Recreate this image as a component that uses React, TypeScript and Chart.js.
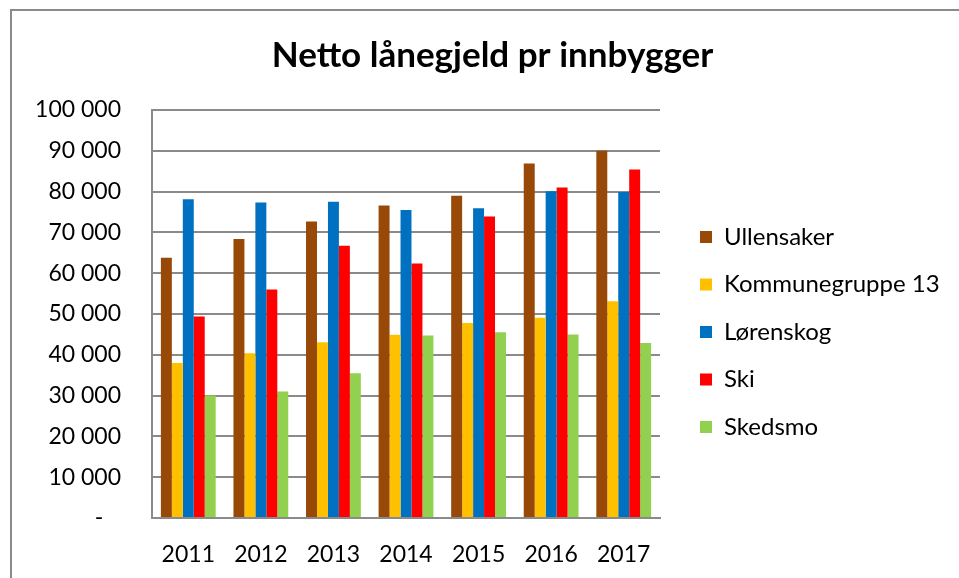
import React, { useEffect, useRef } from "react";
import { Chart, registerables } from "chart.js";

Chart.register(...registerables);

const years = ["2011", "2012", "2013", "2014", "2015", "2016", "2017"];
const ullensaker = [63800, 68400, 72700, 76600, 79000, 86900, 90000];
const kommunegruppe13 = [38000, 40400, 43100, 44900, 47800, 49100, 53100];
const lorenskog = [78100, 77300, 77500, 75500, 75900, 80100, 79900];
const ski = [49400, 56000, 66700, 62400, 73900, 81000, 85400];
const skedsmo = [30000, 31000, 35500, 44700, 45500, 45000, 42900];

const seriesNames = ["Ullensaker", "Kommunegruppe 13", "Lørenskog", "Ski", "Skedsmo"];
const seriesColors = ["#984807", "#FFC000", "#0070C0", "#FF0000", "#92D050"];

const W = 959;
const H = 578;
const FONT = "Lato, 'Open Sans', sans-serif";
const GRID = "#8a8a8a";

const LEGEND_W = 299;
const LEGEND_PAD = 23.5;
const LEGEND_FS = 24;
const LEGEND_DX = 700 - 660 - LEGEND_PAD;
const LEGEND_DY = 237 - 110 - LEGEND_PAD - LEGEND_FS / 2;

const legendPlace = {
  id: "legendPlace",
  afterInit(chart: any) {
    const lg: any = chart.legend;
    if (!lg || lg.__wrapped) return;
    lg.__wrapped = true;
    const fit = lg.fit.bind(lg);
    lg.fit = function () {
      fit();
      this.width = LEGEND_W;
    };
    const draw = lg.draw.bind(lg);
    lg.draw = function () {
      const l = this.left, t = this.top, r = this.right, b = this.bottom;
      this.left = l + LEGEND_DX;
      this.right = r + LEGEND_DX;
      this.top = t + LEGEND_DY;
      this.bottom = b + LEGEND_DY + 200;
      draw();
      this.left = l;
      this.right = r;
      this.top = t;
      this.bottom = b;
    };
  },
};

function fmt(v: number): string {
  if (v === 0) return "-   ";
  const s = String(Math.round(v));
  return s.replace(/\B(?=(\d{3})+(?!\d))/g, " ");
}

export default function App() {
  const ref = useRef<HTMLCanvasElement>(null);

  useEffect(() => {
    if (!ref.current) return;
    Chart.defaults.color = "#000";
    const data = [ullensaker, kommunegruppe13, lorenskog, ski, skedsmo];
    const chart = new Chart(ref.current, {
      type: "bar",
      data: {
        labels: years,
        datasets: data.map((d, i) => ({
          label: seriesNames[i],
          data: d,
          backgroundColor: seriesColors[i],
          borderWidth: 0,
          barPercentage: 1,
          categoryPercentage: 0.755,
        })),
      },
      plugins: [legendPlace],
      options: {
        responsive: false,
        animation: false,
        devicePixelRatio: 1,
        layout: { padding: { left: 26, right: 0, top: 0, bottom: 0 } },
        plugins: {
          title: {
            display: true,
            text: "Netto lånegjeld pr innbygger",
            color: "#000",
            font: { family: FONT, size: 35, weight: "bold" },
            padding: { top: 35, bottom: 33 },
          },
          legend: {
            display: true,
            position: "right",
            align: "start",
            fullSize: false,
            labels: {
              boxWidth: 12,
              boxHeight: 12,
              padding: LEGEND_PAD,
              color: "#000",
              font: { family: FONT, size: LEGEND_FS },
            },
          },
          tooltip: { enabled: false },
        },
        scales: {
          x: {
            grid: { display: false },
            border: { display: true, color: GRID, width: 2 },
            ticks: {
              color: "#000",
              font: { family: FONT, size: 23 },
              padding: 15,
              maxRotation: 0,
            },
            afterFit(scale: any) {
              scale.height = 60;
            },
          },
          y: {
            min: 0,
            max: 100000,
            ticks: {
              stepSize: 10000,
              color: "#000",
              font: { family: FONT, size: 23 },
              padding: 31,
              callback: (v: any) => fmt(Number(v)),
            },
            grid: { color: GRID, lineWidth: 2, drawTicks: false },
            border: { display: true, color: GRID, width: 2 },
            afterFit(scale: any) {
              scale.width = 126;
            },
          },
        },
      },
    });
    return () => chart.destroy();
  }, []);

  return (
    <div style={{ position: "fixed", left: 0, top: 0, width: W, height: H, background: "#fff" }}>
      <div
        style={{
          position: "absolute",
          left: 10,
          top: 9,
          width: W,
          height: H,
          borderLeft: "2px solid #8a8a8a",
          borderTop: "2px solid #8a8a8a",
        }}
      />
      <canvas ref={ref} width={W} height={H} style={{ position: "absolute", left: 0, top: 0 }} />
    </div>
  );
}
